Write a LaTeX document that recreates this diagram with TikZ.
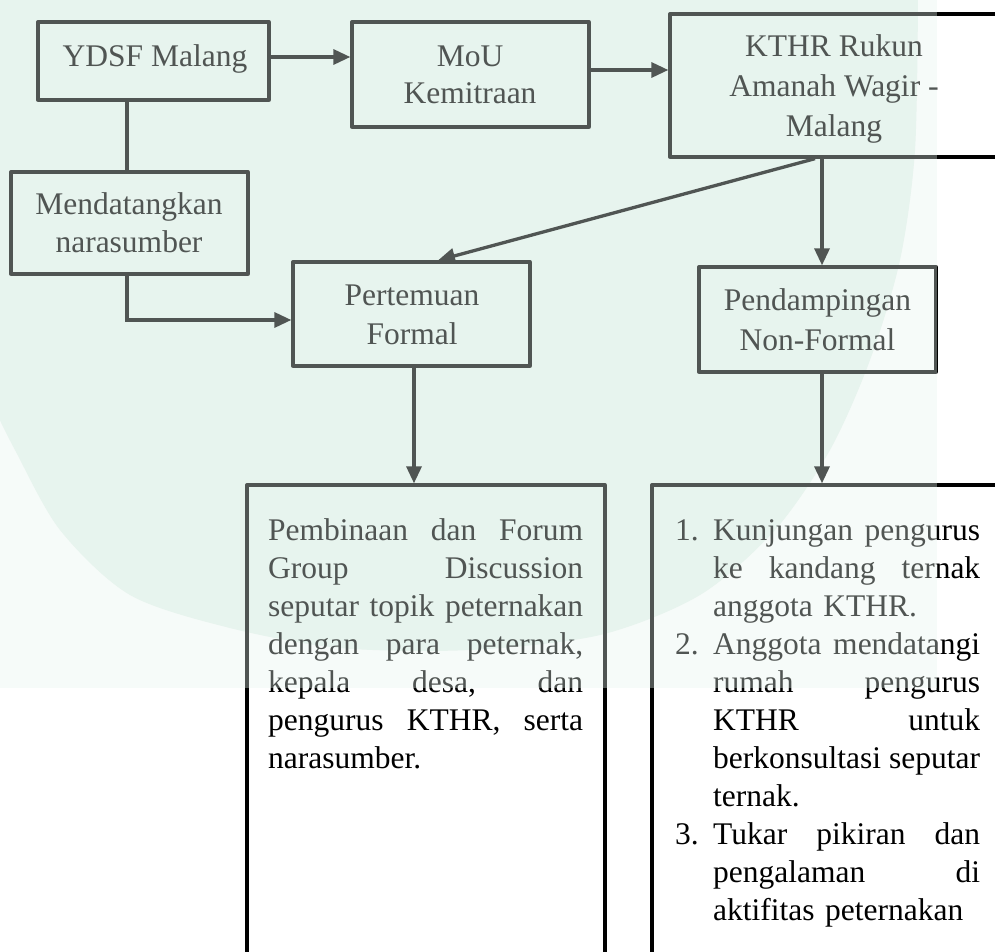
\documentclass[tikz,border=0pt]{standalone}
\usepackage{fontspec}
\setmainfont{Liberation Serif}
\usetikzlibrary{arrows.meta}
\definecolor{mint}{HTML}{E7F4EE}
\tikzset{
  box/.style={draw=black, line width=3.3pt, line join=round, inner sep=0pt},
  lbl/.style={font=\fontsize{31.5}{39}\selectfont, inner sep=0pt, align=center, anchor=base},
  arr/.style={draw=black, line width=3.3pt, -{Triangle[length=17pt,width=15pt]}},
  conn/.style={draw=black, line width=3.3pt},
  para/.style={font=\fontsize{31.5}{38}\selectfont, inner sep=0pt, align=left, anchor=base west},
}
\newcommand\jl[2][315pt]{\leavevmode\hbox to #1{#2}}
\newcommand\itm[2]{\leavevmode\hbox to 38pt{#1\hfil}\hbox to 267pt{#2}}
\newcommand\itl[2]{\leavevmode\hbox to 38pt{#1\hfil}#2}
\begin{document}
\begin{tikzpicture}[x=1pt,y=-1pt]
\useasboundingbox (0,0) rectangle (995,952);
\clip (0,0) rectangle (995,952);
\fill[white] (0,0) rectangle (995,952);
% watermark tint
\fill[mint] (-5,-5) -- (918,-5) -- plot[smooth] coordinates {(918,-5) (915,150) (900,260) (870,360) (830,450) (775,530) (700,595) (600,635) (470,650) (340,648) (230,628) (130,595) (60,530) (15,450) (-5,410)} -- cycle;

% boxes
\node[box, minimum width=231pt, minimum height=78pt]  (ydsf) at (153.5,61) {};
\node[box, minimum width=237pt, minimum height=105pt] (mou)  at (470.5,74.5) {};
\node[box, minimum width=340pt, minimum height=143pt] (kthr) at (840,85.5) {};
\node[box, minimum width=237pt, minimum height=102pt] (mend) at (129.5,223) {};
\node[box, minimum width=237pt, minimum height=104pt] (pert) at (411.5,314) {};
\node[box, minimum width=237pt, minimum height=105pt] (pend) at (817.5,319.5) {};
\node[box, minimum width=358pt, minimum height=515pt] (bl)   at (426,742.5) {};
\node[box, minimum width=358pt, minimum height=515pt] (br)   at (831,742.5) {};

% texts (base anchor = last line baseline)
\node[lbl] (ydsf-t) at (155,67) {YDSF Malang};
\node[lbl, font=\fontsize{31.5}{37}\selectfont] (mou-t) at (470,104) {MoU\\Kemitraan};
\node[lbl, font=\fontsize{31.5}{40}\selectfont] (kthr-t) at (834,137) {KTHR Rukun\\Amanah Wagir -\\Malang};
\node[lbl, font=\fontsize{31.5}{38}\selectfont] (mend-t) at (129,252) {Mendatangkan\\narasumber};
\node[lbl, font=\fontsize{31.5}{39}\selectfont] (pert-t) at (412,344) {Pertemuan\\Formal};
\node[lbl, font=\fontsize{31.5}{40}\selectfont] (pend-t) at (817.5,350) {Pendampingan\\Non-Formal};

\node[para, text width=315pt] (bl-t) at (268,540) {%
\jl{Pembinaan\hfill dan\hfill Forum}\\
\jl{Group\hfill Discussion}\\
\jl{seputar\hfill topik\hfill peternakan}\\
\jl{dengan\hfill para\hfill peternak,}\\
\jl{kepala\hfill desa,\hfill dan}\\
\jl{pengurus\hfill KTHR,\hfill serta}\\
narasumber.};

\node[para, text width=305pt] (br-t) at (675,540) {%
\itm{1.}{Kunjungan\hfill pengurus}\\
\itm{}{ke\hfill kandang\hfill ternak}\\
\itl{}{anggota KTHR.}\\
\itm{2.}{Anggota\hfill mendatangi}\\
\itm{}{rumah\hfill pengurus}\\
\itm{}{KTHR\hfill untuk}\\
\itm{}{berkonsultasi\hfill seputar}\\
\itl{}{ternak.}\\
\itm{3.}{Tukar\hfill pikiran\hfill dan}\\
\itm{}{pengalaman\hfill di}\\
\itl{}{aktifitas peternakan}};

% connectors
\coordinate (a1) at ([yshift=4pt]ydsf.east);
\draw[arr] (a1) -- (a1 -| mou.west);
\coordinate (a2) at ([yshift=4.5pt]mou.east);
\draw[arr] (a2) -- (a2 -| kthr.west);
\coordinate (a3) at ([xshift=-2.5pt]mend.north);
\draw[conn] (a3 |- ydsf.south) -- (a3);
\coordinate (a4) at ([yshift=-6pt]pert.west);
\draw[arr] (a3 |- mend.south) |- (a4);
\coordinate (a5) at ([xshift=-25pt]kthr.south);
\coordinate (a6) at ([xshift=26.5pt]pert.north);
\draw[arr] (a5) -- (a6);
\coordinate (a7) at ([xshift=4.5pt]pend.north);
\draw[arr] (a7 |- kthr.south) -- (a7);
\coordinate (a8) at ([xshift=2.5pt]pert.south);
\draw[arr] (a8) -- (a8 |- bl.north);
\draw[arr] (a7 |- pend.south) -- (a7 |- br.north);

% watermark overlay
\fill[mint, opacity=0.35] (0,0) rectangle (937,688);
\end{tikzpicture}
\end{document}
